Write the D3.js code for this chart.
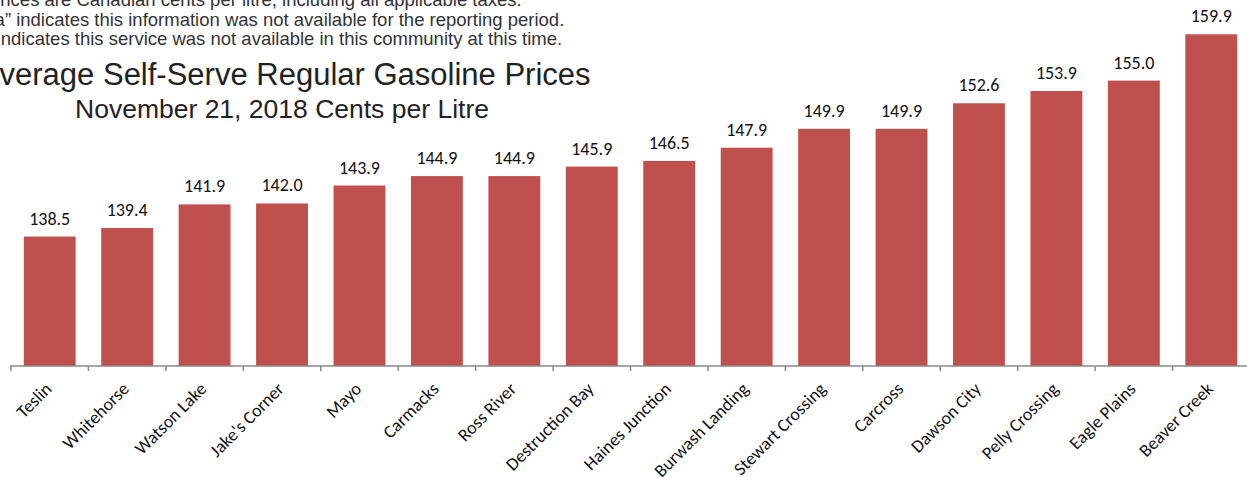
<!DOCTYPE html>
<html>
<head>
<meta charset="utf-8">
<script src="https://cdn.jsdelivr.net/npm/d3@7"></script>
<style>
  html, body { margin: 0; padding: 0; background: #fff; overflow: hidden; }
  svg { display: block; }
</style>
</head>
<body>
<div id="chart"></div>
<script>
const communities = ['Teslin', 'Whitehorse', 'Watson Lake', "Jake's Corner", 'Mayo', 'Carmacks',
  'Ross River', 'Destruction Bay', 'Haines Junction', 'Burwash Landing', 'Stewart Crossing',
  'Carcross', 'Dawson City', 'Pelly Crossing', 'Eagle Plains', 'Beaver Creek'];
const prices = [138.5, 139.4, 141.9, 142.0, 143.9, 144.9, 144.9, 145.9, 146.5, 147.9, 149.9,
  149.9, 152.6, 153.9, 155.0, 159.9];
const notes = [
  'Prices are Canadian cents per litre, including all applicable taxes.',
  '\u201cn/a\u201d indicates this information was not available for the reporting period.',
  '\u201c-\u201d indicates this service was not available in this community at this time.'
];
const title = 'Average Self-Serve Regular Gasoline Prices';
const subtitle = 'November 21, 2018 Cents per Litre';

const width = 1247;
const height = 478;
const baseline = 366;
const sansFont = 'Liberation Sans, Arial, sans-serif';
const labelFont = 'Carlito, Calibri, Open Sans, sans-serif';

const svg = d3.select('#chart')
  .append('svg')
    .attr('width', width)
    .attr('height', height);

// notes, cut at the left edge like the original
const noteX = [-12, -27, -27];
svg.append('g')
  .selectAll('text')
  .data(notes)
  .enter()
  .append('text')
    .attr('x', (d, i) => noteX[i])
    .attr('y', (d, i) => 6 + i * 19.5)
    .attr('font-family', sansFont)
    .attr('font-size', 18.5)
    .attr('fill', '#333')
    .text(d => d);

svg.append('text')
  .attr('x', 285)
  .attr('y', 85)
  .attr('text-anchor', 'middle')
  .attr('font-family', sansFont)
  .attr('font-size', 31)
  .attr('fill', '#222')
  .text(title);

svg.append('text')
  .attr('x', 282)
  .attr('y', 118)
  .attr('text-anchor', 'middle')
  .attr('font-family', sansFont)
  .attr('font-size', 26.5)
  .attr('fill', '#222')
  .text(subtitle);

// scales
const xScale = d3.scaleBand()
  .domain(communities)
  .range([11, 1250])
  .paddingInner(0.33)
  .paddingOuter(0.165);

const yScale = d3.scaleLinear()
  .domain([124.8, 165])
  .range([baseline, baseline - (165 - 124.8) * 9.45]);

const step = xScale.step();
const centre = d => xScale(d) + xScale.bandwidth() / 2;

// bars
svg.selectAll('.bar')
  .data(prices)
  .enter()
  .append('rect')
    .attr('class', 'bar')
    .attr('x', (d, i) => xScale(communities[i]))
    .attr('y', d => yScale(d))
    .attr('width', xScale.bandwidth())
    .attr('height', d => baseline - yScale(d))
    .attr('fill', '#C0504D');

// value labels
svg.selectAll('.val')
  .data(prices)
  .enter()
  .append('text')
    .attr('class', 'val')
    .attr('x', (d, i) => centre(communities[i]))
    .attr('y', d => yScale(d) - 12)
    .attr('text-anchor', 'middle')
    .attr('font-family', labelFont)
    .attr('font-size', 18)
    .attr('fill', '#111')
    .text(d => d.toFixed(1));

// x axis line and ticks between categories
const axis = svg.append('g');
axis.append('line')
  .attr('x1', 10)
  .attr('x2', width)
  .attr('y1', baseline)
  .attr('y2', baseline)
  .attr('stroke', '#888')
  .attr('stroke-width', 1.5);

axis.selectAll('.tick')
  .data(communities)
  .enter()
  .append('line')
    .attr('x1', d => xScale(d) - step * xScale.paddingInner() / 2)
    .attr('x2', d => xScale(d) - step * xScale.paddingInner() / 2)
    .attr('y1', baseline)
    .attr('y2', baseline + 5)
    .attr('stroke', '#888')
    .attr('stroke-width', 1.5);

axis.selectAll('.cat')
  .data(communities)
  .enter()
  .append('text')
    .attr('transform', d => `translate(${centre(d) + 3}, 390) rotate(-45)`)
    .attr('text-anchor', 'end')
    .attr('font-family', labelFont)
    .attr('font-size', 18)
    .attr('fill', '#111')
    .text(d => d);
</script>
</body>
</html>
